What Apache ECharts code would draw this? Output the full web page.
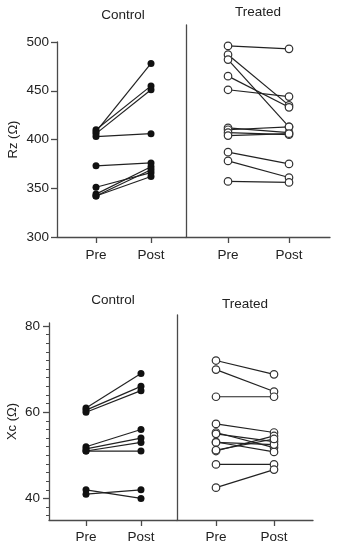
<!DOCTYPE html>
<html><head><meta charset="utf-8">
<script src="https://cdn.jsdelivr.net/npm/echarts@6/dist/echarts.min.js"></script>
<style>html,body{margin:0;padding:0;background:#fff}#c{width:337px;height:550px}</style>
</head><body><div id="c"></div>
<script>
const groups = ['Control', 'Treated'];
const timepoints = ['Pre', 'Post'];
const rzTicks = [300, 350, 400, 450, 500];
const xcTicks = [40, 60, 80];
const xcMinorTicks = [36, 38, 42, 44, 46, 48, 50, 52, 54, 56, 58, 62, 64, 66, 68, 70, 72, 74, 76, 78];

const rzControlPre  = [408, 410, 406, 403, 373, 351, 344, 342, 342];
const rzControlPost = [478, 455, 451, 406, 376, 366, 372, 369, 362];
const rzTreatedPre  = [496, 487, 482, 465, 451, 412, 410, 407, 404, 387, 378, 357];
const rzTreatedPost = [493, 435, 413, 433, 444, 407, 413, 405, 406, 375, 361, 356];

const xcControlPre  = [61, 60.5, 60, 52, 51.5, 51, 51, 42, 41];
const xcControlPost = [69, 66, 65, 56, 54, 53, 51, 40, 42];
const xcTreatedPre  = [72, 69.9, 63.6, 57.3, 55.3, 55.0, 53.1, 53.0, 51.0, 51.2, 47.9, 42.5];
const xcTreatedPost = [68.8, 64.8, 63.6, 55.3, 51.8, 53.2, 50.8, 52.5, 54.5, 53.8, 47.9, 46.7];

const FONT = 'Liberation Sans, Arial, sans-serif';
const TXT = '#222';
const AX = '#4a4a4a';

const grids = [
  {left: 57, top: 42, width: 129, height: 195},
  {left: 186, top: 25, width: 144, height: 212},
  {left: 49, top: 323, width: 128, height: 197},
  {left: 177, top: 315, width: 136, height: 205}
];
const xRanges = [[-0.709, 1.636], [-0.689, 1.672], [-0.673, 1.655], [-0.672, 1.672]];
const xLabelMargins = [11, 11, 10, 10];

const xAxes = xRanges.map((r, i) => ({
  type: 'value', gridIndex: i, min: r[0], max: r[1],
  splitLine: {show: false},
  axisLine: {show: true, onZero: false, lineStyle: {color: AX, width: 1.3}},
  axisTick: {show: true, customValues: [0, 1], length: 6, lineStyle: {color: AX, width: 1.3}},
  axisLabel: {customValues: [0, 1], formatter: v => timepoints[Math.round(v)] || '', color: TXT, fontSize: 13.5, fontFamily: FONT, margin: xLabelMargins[i]}
}));

const yAxes = [
  {type: 'value', gridIndex: 0, min: 300, max: 500, interval: 50,
   name: 'Rz (\u03A9)', nameLocation: 'middle', nameGap: 37, nameRotate: 90,
   nameTextStyle: {color: TXT, fontSize: 13, fontFamily: FONT},
   splitLine: {show: false},
   axisLine: {show: true, onZero: false, lineStyle: {color: AX, width: 1.3}},
   axisTick: {show: true, length: 6, lineStyle: {color: AX, width: 1.3}},
   axisLabel: {color: TXT, fontSize: 13.5, fontFamily: FONT, margin: 8}},
  {type: 'value', gridIndex: 1, min: 300, max: 300 + 212 / 0.975,
   splitLine: {show: false},
   axisLine: {show: true, onZero: false, lineStyle: {color: AX, width: 1.3}},
   axisTick: {show: false}, axisLabel: {show: false}},
  {type: 'value', gridIndex: 2, min: 35, max: 80.7,
   name: 'Xc (\u03A9)', nameLocation: 'middle', nameGap: 30, nameRotate: 90,
   nameTextStyle: {color: TXT, fontSize: 13, fontFamily: FONT},
   splitLine: {show: false},
   axisLine: {show: true, onZero: false, lineStyle: {color: AX, width: 1.3}},
   axisTick: {show: true, customValues: xcTicks, length: 6, lineStyle: {color: AX, width: 1.3}},
   axisLabel: {customValues: xcTicks, color: TXT, fontSize: 13.5, fontFamily: FONT, margin: 9}},
  {type: 'value', gridIndex: 3, min: 35, max: 35 + 205 / 4.31,
   splitLine: {show: false},
   axisLine: {show: true, onZero: false, lineStyle: {color: AX, width: 1.3}},
   axisTick: {show: false}, axisLabel: {show: false}},
  {type: 'value', gridIndex: 2, min: 35, max: 80.7, position: 'left',
   splitLine: {show: false}, axisLine: {show: false, onZero: false},
   axisTick: {show: true, customValues: xcMinorTicks, length: 3, lineStyle: {color: AX, width: 1}},
   axisLabel: {show: false}}
];

const series = [];
function addPairs(pre, post, gi, filled) {
  pre.forEach((v, i) => {
    series.push({
      type: 'line', xAxisIndex: gi, yAxisIndex: gi,
      data: [[0, v], [1, post[i]]],
      symbol: 'circle', symbolSize: filled ? 7 : 7.5,
      lineStyle: {color: '#222', width: 1.2},
      itemStyle: filled ? {color: '#111', borderColor: '#111', borderWidth: 0}
                        : {color: '#fff', borderColor: '#333', borderWidth: 1.2},
      silent: true, animation: false, clip: false
    });
  });
}
addPairs(rzControlPre, rzControlPost, 0, true);
addPairs(rzTreatedPre, rzTreatedPost, 1, false);
addPairs(xcControlPre, xcControlPost, 2, true);
addPairs(xcTreatedPre, xcTreatedPost, 3, false);

const titlePos = [[123, 15], [258, 12], [113, 300], [245, 304]];
const graphic = titlePos.map((p, i) => ({
  type: 'text', x: p[0], y: p[1],
  style: {text: groups[i % 2], fill: TXT, font: '13.5px ' + FONT, textAlign: 'center', textVerticalAlign: 'middle'}
}));

const chart = echarts.init(document.getElementById('c'), null, {renderer: 'canvas'});
chart.setOption({
  animation: false,
  grid: grids,
  xAxis: xAxes,
  yAxis: yAxes,
  series: series,
  graphic: graphic
});
</script></body></html>
